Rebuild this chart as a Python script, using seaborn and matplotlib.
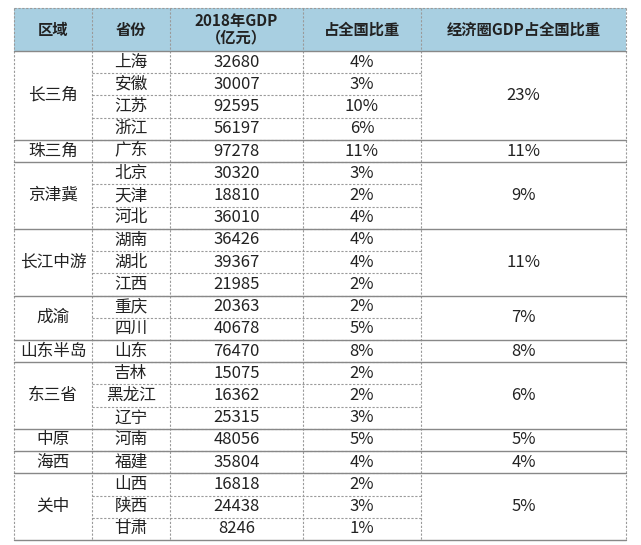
import matplotlib.pyplot as plt
import seaborn as sns

# ---------------- data ----------------
headers = ["区域", "省份", "2018年GDP\n（亿元）", "占全国比重", "经济圈GDP占全国比重"]
regions = ["长三角", "珠三角", "京津冀", "长江中游", "成渝", "山东半岛", "东三省", "中原", "海西", "关中"]
region_sizes = [4, 1, 3, 3, 2, 1, 3, 1, 1, 3]
region_share = ["23%", "11%", "9%", "11%", "7%", "8%", "6%", "5%", "4%", "5%"]
provinces = ["上海", "安徽", "江苏", "浙江", "广东", "北京", "天津", "河北", "湖南", "湖北", "江西",
             "重庆", "四川", "山东", "吉林", "黑龙江", "辽宁", "河南", "福建", "山西", "陕西", "甘肃"]
gdp = [32680, 30007, 92595, 56197, 97278, 30320, 18810, 36010, 36426, 39367, 21985,
       20363, 40678, 76470, 15075, 16362, 25315, 48056, 35804, 16818, 24438, 8246]
share = ["4%", "3%", "10%", "6%", "11%", "3%", "2%", "4%", "4%", "4%", "2%",
         "2%", "5%", "8%", "2%", "2%", "3%", "5%", "4%", "2%", "3%", "1%"]

# ---------------- layout (pixels) ----------------
W, H = 641, 545
col_x = [14, 92, 170, 303, 421, 626]
top, head_bot, bottom = 8, 51, 540
n = len(provinces)
row_h = (bottom - head_bot) / n
FONT = "Noto Sans CJK SC"

sns.set_style("white")
fig = plt.figure(figsize=(W / 100, H / 100), dpi=100)
ax = fig.add_axes([0, 0, 1, 1])
ax.set_xlim(0, W)
ax.set_ylim(H, 0)
ax.axis("off")

ax.fill_between([col_x[0], col_x[-1]], top, head_bot, color="#a8cfe1", lw=0)
for i, h in enumerate(headers):
    cx = (col_x[i] + col_x[i + 1]) / 2
    ax.text(cx, (top + head_bot) / 2, h, ha="center", va="center", fontsize=11,
            fontweight="bold", family=FONT, color="#222222", linespacing=1.05)

dash = dict(color="#9a9a9a", lw=0.8, ls=(0, (2, 1.5)))
solid = dict(color="#888888", lw=1.0)

# vertical lines
for x in col_x:
    ax.plot([x, x], [top, bottom], **dash)
ax.plot([col_x[0], col_x[-1]], [top, top], **dash)
ax.plot([col_x[0], col_x[-1]], [head_bot, head_bot], **solid)

# province rows
for j in range(n):
    cy = head_bot + (j + 0.5) * row_h
    for i, t in enumerate([provinces[j], str(gdp[j]), share[j]]):
        cx = (col_x[i + 1] + col_x[i + 2]) / 2
        ax.text(cx, cy, t, ha="center", va="center", fontsize=12, family=FONT, color="#222222")
    if j > 0:
        y = head_bot + j * row_h
        ax.plot([col_x[1], col_x[4]], [y, y], **dash)

# region groups
start = 0
for r, size, s in zip(regions, region_sizes, region_share):
    y0 = head_bot + start * row_h
    y1 = head_bot + (start + size) * row_h
    cy = (y0 + y1) / 2
    ax.text((col_x[0] + col_x[1]) / 2, cy, r, ha="center", va="center", fontsize=12,
            family=FONT, color="#222222")
    ax.text((col_x[4] + col_x[5]) / 2, cy, s, ha="center", va="center", fontsize=12,
            family=FONT, color="#222222")
    ax.plot([col_x[0], col_x[-1]], [y1, y1], **solid)
    start += size

fig.savefig("out.png", dpi=100, facecolor="white")
